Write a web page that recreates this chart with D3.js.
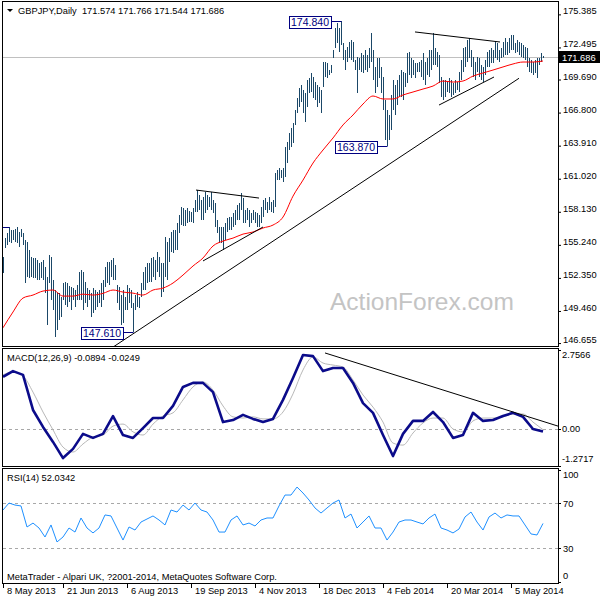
<!DOCTYPE html>
<html><head><meta charset="utf-8">
<script src="https://cdn.jsdelivr.net/npm/d3@7"></script>
<style>
body{margin:0;background:#fff}
svg{display:block}
text{font-family:"Liberation Sans",Arial,sans-serif}
</style></head>
<body><svg id="c" width="600" height="600"></svg>
<script>
// ---------------- DATA ----------------
const symbolTitle = "GBPJPY,Daily  171.574 171.766 171.544 171.686";
const lastClose = 171.686;
const dateLabels = ["8 May 2013","21 Jun 2013","6 Aug 2013","19 Sep 2013","4 Nov 2013","18 Dec 2013","4 Feb 2014","20 Mar 2014","5 May 2014"];
const dateLabelIdx = [0,30,62,94,126,158,190,222,254];
const priceTicks = [175.385,172.495,169.690,166.800,163.910,161.020,158.130,155.240,152.350,149.460,146.655];
const macdTicks = [2.7566,0,-1.2717];
const macdTickText = ["2.7566","0.00","-1.2717"];
const rsiTicks = [100,70,30,0];

// daily highs / lows (bar 0 = 8 May 2013 ... bar 270 = last bar)
const highs = [
154.18,155.84,156.28,156.80,156.54,156.54,156.63,156.80,156.36,156.63,
156.28,155.66,155.49,154.79,154.18,154.09,154.09,153.91,153.65,153.74,
153.91,153.30,152.43,154.35,154.18,152.17,151.29,151.03,151.03,150.68,
151.91,151.99,151.91,151.64,151.56,151.47,151.29,151.73,152.87,153.04,
152.87,151.99,151.47,151.29,151.03,151.47,151.29,151.12,151.29,151.91,
152.17,153.30,153.74,153.74,153.91,154.09,153.48,151.73,151.56,150.85,
151.29,150.68,151.73,151.47,151.29,150.16,150.85,151.12,150.68,151.91,
152.87,153.30,153.65,153.65,154.09,154.18,153.91,154.61,154.18,153.65,
153.65,155.93,155.49,155.84,156.36,156.54,156.54,157.15,157.85,158.55,
158.46,158.29,158.46,158.20,158.11,158.46,159.16,160.03,159.60,159.16,
159.42,159.86,159.60,159.42,159.86,159.16,158.90,157.41,156.80,156.80,
156.80,157.15,157.59,157.67,157.67,158.02,158.29,158.72,158.90,159.77,
159.33,158.29,158.46,158.29,158.02,158.29,158.11,158.02,157.85,158.55,
159.16,159.33,158.98,159.42,158.98,159.16,161.52,161.78,161.96,161.78,
161.96,163.79,164.23,165.02,165.45,165.89,167.03,168.07,168.95,169.21,
168.77,168.51,169.65,169.82,170.26,169.91,169.47,169.21,169.04,168.77,
171.22,171.22,171.13,170.52,170.96,172.27,174.19,174.63,174.19,174.84,
172.88,172.27,172.53,172.97,173.14,172.97,171.40,171.66,171.57,172.01,
171.83,172.27,171.83,172.45,173.76,172.27,170.78,171.57,171.57,170.78,
169.91,167.90,167.03,166.59,168.34,169.65,169.21,169.65,170.09,170.52,
170.35,170.26,172.01,172.10,171.57,171.40,171.13,171.13,171.22,171.40,
172.01,171.22,171.57,172.27,172.27,173.76,172.45,172.10,171.83,169.91,
169.65,169.65,169.47,169.82,169.65,169.39,169.65,169.47,170.35,171.40,
172.45,172.53,173.14,173.32,172.27,171.66,171.22,171.66,171.57,170.96,
170.78,171.40,172.10,172.27,172.45,172.27,172.97,172.88,172.27,172.45,
172.97,173.32,172.97,173.32,173.58,173.58,172.88,173.14,172.97,172.88,
172.71,172.53,172.45,171.57,171.40,171.22,171.40,171.57,171.57,172.01,
171.766];
const lows = [
152.78,154.96,155.23,155.49,155.40,155.66,155.49,155.40,155.05,155.93,
155.23,151.91,152.43,152.34,152.43,152.34,152.34,152.17,152.17,152.34,
152.17,151.03,148.23,151.91,150.42,149.55,147.19,147.80,148.67,148.93,
150.42,149.98,149.81,150.25,149.55,150.42,149.81,150.42,150.42,150.42,
149.55,150.16,149.81,150.42,148.93,149.28,149.55,149.81,150.16,149.81,
150.42,151.56,151.91,151.73,152.43,152.17,152.17,150.16,149.55,148.23,
148.41,149.55,149.55,150.16,149.72,147.61,149.55,149.81,149.72,150.68,
151.29,151.29,151.91,151.99,151.99,152.43,152.17,152.87,152.43,150.68,
151.12,152.43,152.17,153.74,154.61,154.53,154.79,154.79,156.28,156.97,
156.89,156.89,157.15,157.24,157.24,157.15,158.11,158.11,158.29,157.41,
157.41,158.02,158.29,158.55,158.29,158.02,156.80,156.28,155.40,155.40,
154.79,155.66,156.36,156.54,156.54,156.80,156.97,157.41,157.41,158.29,
157.15,157.15,157.41,156.80,157.15,157.41,157.15,156.80,156.80,157.15,
157.67,158.29,158.02,158.29,158.11,158.02,158.55,160.91,160.91,161.08,
160.73,161.17,162.39,163.53,163.79,164.14,165.72,166.76,167.29,167.73,
166.76,165.98,167.29,168.51,168.60,168.07,167.90,167.29,167.64,166.76,
169.04,169.91,169.82,170.09,170.26,171.57,172.45,172.88,172.10,172.71,
171.40,170.52,171.22,171.57,171.40,171.22,170.52,168.51,170.52,170.35,
170.26,170.52,170.35,170.70,171.22,169.65,168.51,169.04,169.82,168.51,
167.03,164.40,163.87,164.40,165.28,167.03,166.59,167.46,168.16,168.16,
167.90,169.04,169.39,170.09,169.82,170.09,169.82,170.35,170.35,169.91,
169.65,169.21,170.09,169.91,170.52,170.96,170.96,170.78,169.39,168.16,
167.90,168.16,168.60,168.51,168.16,168.34,168.51,168.77,168.60,169.65,
170.35,170.78,171.22,171.57,170.78,169.91,169.65,170.35,169.91,169.65,
169.47,170.09,170.78,170.78,171.13,171.13,171.57,171.40,171.22,171.57,
171.66,171.83,171.83,172.01,172.27,172.27,172.01,172.10,171.83,171.66,
171.57,171.40,170.78,170.35,170.26,170.09,170.26,169.82,170.96,171.22,
171.544];

// 20-day moving average, every 5th bar (bar 0,5,...,270)
const ma = [147.99,149.37,150.59,150.85,151.20,151.29,150.76,150.76,150.93,150.85,
151.00,151.29,151.11,151.02,150.85,151.29,151.46,151.90,152.60,153.39,
154.09,155.14,155.57,155.83,156.18,156.36,156.71,156.97,157.67,159.50,
160.90,162.39,163.53,164.58,165.72,166.59,167.55,168.25,167.99,167.99,
168.34,168.60,168.86,169.12,169.56,169.47,169.56,169.99,170.26,170.52,
170.79,171.05,171.22,171.22,171.31];

// MACD(12,26,9) main and signal, every 5th bar
const macdMain = [1.81,2.01,1.88,0.66,0.07,-0.45,-1.01,-0.69,-0.17,-0.31,
-0.17,0.45,-0.21,-0.31,0.03,0.38,0.38,0.80,1.46,1.60,
1.60,1.28,0.24,0.31,0.49,0.35,0.24,0.35,1.01,1.77,
2.57,2.53,2.01,2.12,2.12,1.60,0.90,0.56,-0.21,-0.94,
-0.17,0.28,0.28,0.59,0.24,-0.31,-0.21,0.56,0.28,0.31,
0.45,0.56,0.42,0.00,-0.0894];
const macdSignal = [1.88,1.98,1.84,1.28,0.59,-0.03,-0.63,-0.80,-0.52,-0.28,
-0.21,0.10,0.17,-0.10,-0.21,0.17,0.45,0.56,1.01,1.46,
1.63,1.35,0.80,0.42,0.38,0.42,0.35,0.35,0.59,1.22,
2.05,2.50,2.29,2.22,2.15,1.70,1.18,0.76,0.24,-0.49,
-0.56,-0.14,0.21,0.38,0.38,0.00,-0.10,0.28,0.38,0.38,
0.42,0.52,0.52,0.24,-0.0249];

// RSI(14), every 3rd bar (bar 0,3,...,270)
const rsi = [64,70.2,68.4,67.6,48.9,52.4,48,40,50.7,35.6,
40,48,44.4,56.9,48,43.6,48,59.6,58.7,48,
37.3,48.9,46.2,53.3,56,58.7,55.1,50.7,64,62.2,
68.4,64,70.2,64,62.2,55.1,44.4,44.4,55.1,58.7,
50.7,52.4,49.8,55.1,56.9,56.9,67.6,77.3,77.3,84.4,
79.1,72.9,65.8,61.3,65.8,70.2,72.9,56.9,60.4,48,
53.3,58.7,48,48,37.3,44.4,53.3,55.1,55.1,53.3,
51.6,56.9,60.4,48,46.2,43.6,47.1,57.8,62.2,53.3,
46.2,57.8,61.3,56.9,59.6,58.7,58.7,50.7,42.7,41.8,
52.0342];

// drawn objects: trend lines [barIndex, value]
const priceTrendLines = [
  [[55,146.30],[258,169.80]],
  [[100,153.83],[130,156.80]],
  [[96.5,160.03],[128,159.33]],
  [[206,173.85],[248.5,172.97]],
  [[218,167.46],[245.5,169.91]]
];
const macdTrendLine = [[161,2.64],[277.5,0.10]];
// price marks; the last one belongs to a label that lies left of the visible window
const priceMarks = [
  {bar:169, price:174.840, text:"174.840", shown:true},
  {bar:192, price:163.870, text:"163.870", shown:true},
  {bar:65,  price:147.610, text:"147.610", shown:true},
  {bar:3,   price:156.800, text:"156.800", shown:false}
];

// ---------------- LAYOUT ----------------
const svg = d3.select("#c");
const L = 3, R = 558;
const P1 = {top:1, bot:346}, P2 = {top:348, bot:466}, P3 = {top:468, bot:583};
const x = d3.scaleLinear().domain([0,270]).range([3,543]);
const y = d3.scaleLinear().domain([146.655,175.385]).range([343.05,14.38]);
const ym = d3.scaleLinear().domain([-1.2717,2.7566]).range([465.6,349.6]);
const yr = d3.scaleLinear().domain([0,100]).range([582,469.5]);
const px = v => Math.round(v)+0.5;

const defs = svg.append("defs");
[["cp1",P1],["cp2",P2],["cp3",P3]].forEach(([id,p])=>{
  defs.append("clipPath").attr("id",id).append("rect")
    .attr("x",L).attr("y",p.top).attr("width",R-L).attr("height",p.bot-p.top);
});

// watermark
svg.append("text").attr("x",330).attr("y",310).attr("font-size",24.5)
  .attr("fill","#c4c4c4").text("ActionForex.com");

// ---------- main panel ----------
const g1 = svg.append("g").attr("clip-path","url(#cp1)");
g1.append("line").attr("x1",L).attr("x2",R).attr("y1",px(y(lastClose))).attr("y2",px(y(lastClose)))
  .attr("stroke","#c0c0c0");
g1.selectAll("line.bar").data(highs).enter().append("line").attr("class","bar")
  .attr("x1",(d,i)=>px(x(i))).attr("x2",(d,i)=>px(x(i)))
  .attr("y1",d=>y(d)).attr("y2",(d,i)=>Math.max(y(lows[i]),y(d)+1))
  .attr("stroke","#1b4868").attr("stroke-width",1).attr("shape-rendering","crispEdges");
g1.append("path").datum(ma).attr("fill","none").attr("stroke","#ff0000").attr("stroke-width",1)
  .attr("d",d3.line().x((d,i)=>x(i*5)).y(d=>y(d)).curve(d3.curveMonotoneX));
priceTrendLines.forEach(t=>{
  g1.append("line").attr("x1",x(t[0][0])).attr("y1",y(t[0][1])).attr("x2",x(t[1][0])).attr("y2",y(t[1][1]))
    .attr("stroke","#000").attr("stroke-width",1);
});
priceMarks.forEach(m=>{
  const bx = x(m.bar), by = px(y(m.price));
  const right = bx-10, w = 42, h = 12;
  g1.append("line").attr("x1",m.shown?right:L).attr("x2",px(bx)).attr("y1",by).attr("y2",by).attr("stroke","#000080");
  if(!m.shown) return;
  g1.append("rect").attr("x",Math.round(right-w)+0.5).attr("y",Math.round(by-h/2)+0.5).attr("width",w).attr("height",h)
    .attr("fill","#fff").attr("stroke","#000080");
  g1.append("text").attr("x",right-w/2).attr("y",by+4).attr("text-anchor","middle")
    .attr("font-size",10.5).attr("fill","#000080").text(m.text);
});

// header
svg.append("path").attr("d","M7,9 L13,9 L10,12 Z").attr("fill","#000");
svg.append("text").attr("x",18).attr("y",14).attr("font-size",9.3).attr("fill","#000")
  .attr("xml:space","preserve").style("white-space","pre").text(symbolTitle);

// ---------- MACD panel ----------
const g2 = svg.append("g").attr("clip-path","url(#cp2)");
g2.append("line").attr("x1",L).attr("x2",R).attr("y1",px(ym(0))).attr("y2",px(ym(0)))
  .attr("stroke","#a8a8a8").attr("stroke-dasharray","3,3");
g2.append("path").datum(macdSignal).attr("fill","none").attr("stroke","#b8b8b8").attr("stroke-width",1)
  .attr("d",d3.line().x((d,i)=>x(i*5)).y(d=>ym(d)).curve(d3.curveMonotoneX));
g2.append("path").datum(macdMain).attr("fill","none").attr("stroke","#0b0b8a").attr("stroke-width",2.6)
  .attr("stroke-linejoin","round")
  .attr("d",d3.line().x((d,i)=>x(i*5)).y(d=>ym(d)));
g2.append("line").attr("x1",x(macdTrendLine[0][0])).attr("y1",ym(macdTrendLine[0][1]))
  .attr("x2",x(macdTrendLine[1][0])).attr("y2",ym(macdTrendLine[1][1])).attr("stroke","#000");
svg.append("text").attr("x",7).attr("y",361).attr("font-size",9.3).attr("fill","#000")
  .text("MACD(12,26,9) " + macdMain[macdMain.length-1].toFixed(4) + " " + macdSignal[macdSignal.length-1].toFixed(4));

// ---------- RSI panel ----------
const g3 = svg.append("g").attr("clip-path","url(#cp3)");
[70,30].forEach(v=>{
  g3.append("line").attr("x1",L).attr("x2",R).attr("y1",px(yr(v))).attr("y2",px(yr(v)))
    .attr("stroke","#a8a8a8").attr("stroke-dasharray","3,3");
});
g3.append("path").datum(rsi).attr("fill","none").attr("stroke","#1e90ff").attr("stroke-width",1)
  .attr("d",d3.line().x((d,i)=>x(i*3)).y(d=>yr(d)));
svg.append("text").attr("x",7).attr("y",481).attr("font-size",9.3).attr("fill","#000")
  .text("RSI(14) " + rsi[rsi.length-1].toFixed(4));
svg.append("text").attr("x",7).attr("y",579.5).attr("font-size",9.3).attr("fill","#000")
  .text("MetaTrader - Alpari UK, ?2001-2014, MetaQuotes Software Corp.");

// ---------- frames ----------
[P1,P2,P3].forEach(p=>{
  svg.append("rect").attr("x",L-0.5).attr("y",p.top+0.5).attr("width",R-L+0.5).attr("height",p.bot-p.top)
    .attr("fill","none").attr("stroke","#000").attr("shape-rendering","crispEdges");
});

// ---------- right axes ----------
const ax1 = svg.append("g").attr("transform",`translate(${R},0)`)
  .call(d3.axisRight(y).tickValues(priceTicks).tickSize(3).tickPadding(2).tickFormat(d3.format(".3f")));
ax1.select(".domain").remove();
ax1.selectAll("text").attr("font-size",9.3).attr("font-family","Liberation Sans, Arial").attr("dy","-0.05em").attr("fill","#000");
ax1.selectAll("line").attr("stroke","#000");
// current price label
const cy = y(lastClose);
svg.append("rect").attr("x",R).attr("y",Math.round(cy)-6).attr("width",42).attr("height",12).attr("fill","#000");
svg.append("text").attr("x",R+4).attr("y",Math.round(cy)+4).attr("font-size",9.3).attr("fill","#fff").text(lastClose.toFixed(3));

const macdOff = [5.5,0,-6.5];
macdTicks.forEach((v,k)=>{
  svg.append("line").attr("x1",R).attr("x2",R+3).attr("y1",px(ym(v))).attr("y2",px(ym(v))).attr("stroke","#000");
  svg.append("text").attr("x",R+4).attr("y",ym(v)+macdOff[k]+3.3).attr("font-size",9.3).attr("fill","#000").text(macdTickText[k]);
});
const rsiOff = [5.5,0,0,-6];
rsiTicks.forEach((v,k)=>{
  svg.append("line").attr("x1",R).attr("x2",R+3).attr("y1",px(yr(v))).attr("y2",px(yr(v))).attr("stroke","#000");
  svg.append("text").attr("x",R+5).attr("y",yr(v)+rsiOff[k]+3.3).attr("font-size",9.3).attr("fill","#000").text(v);
});

// ---------- date axis ----------
dateLabelIdx.forEach((b,k)=>{
  const xx = px(x(b));
  svg.append("line").attr("x1",xx).attr("x2",xx).attr("y1",583).attr("y2",588).attr("stroke","#000");
  svg.append("text").attr("x",xx+3.5).attr("y",594).attr("font-size",9.3).attr("fill","#000").text(dateLabels[k]);
});
</script>
</body></html>
